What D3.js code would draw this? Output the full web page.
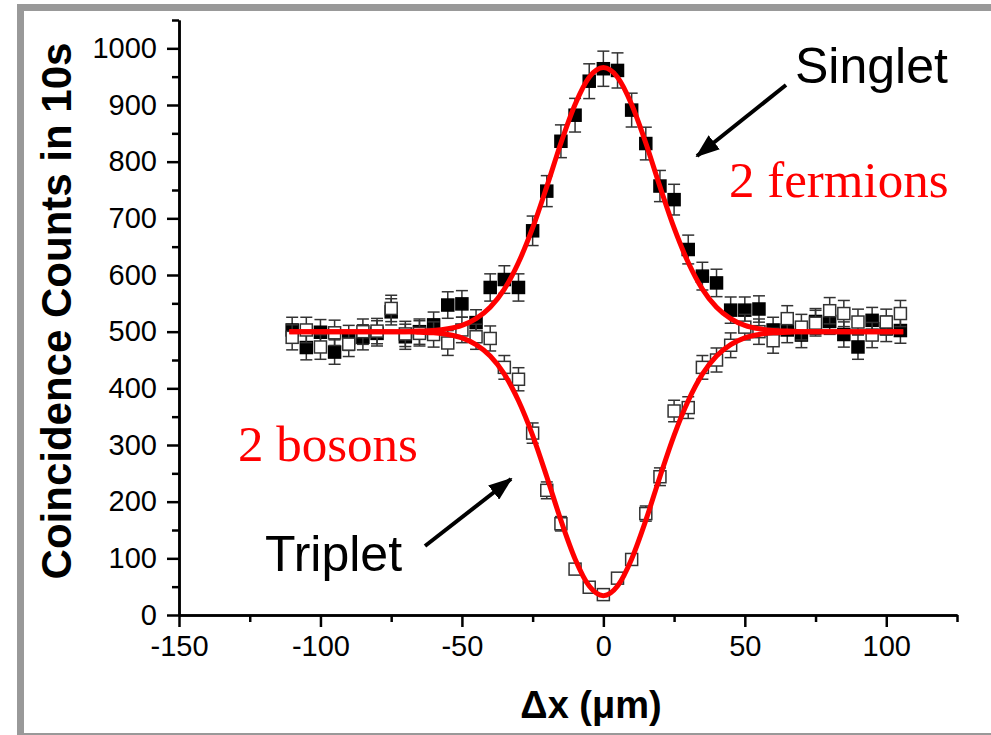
<!DOCTYPE html>
<html>
<head>
<meta charset="utf-8">
<script src="https://cdn.jsdelivr.net/npm/d3@7"></script>
<style>
  body { margin: 0; background: #fff; }
  text { font-family: "Liberation Sans", Arial, sans-serif; }
</style>
</head>
<body>
<div id="chart"></div>
<script>
// displacement of the beam splitter (um)
const xValues = [-110, -105, -100, -95, -90, -85, -80, -75, -70, -65, -60, -55, -50, -45, -40, -35, -30, -25, -20, -15, -10, -5,
  0, 5, 10, 15, 20, 25, 30, 35, 40, 45, 50, 55, 60, 65, 70, 75, 80, 85, 90, 95, 100, 105];
// filled squares (singlet)
const singletCounts = [503, 472, 499, 464, 489, 490, 497, 535, 491, 500, 512, 547, 549, 516, 578, 592, 578, 678, 748, 836, 882, 942,
  964, 961, 891, 832, 757, 733, 645, 598, 586, 538, 538, 540, 503, 503, 494, 518, 518, 495, 473, 520, 505, 502];
// open squares (triplet)
const tripletCounts = [490, 503, 473, 498, 478, 500, 501, 541, 496, 497, 495, 480, 503, 491, 488, 437, 416, 321, 220, 161, 81, 49,
  36, 65, 98, 179, 244, 360, 366, 437, 450, 476, 508, 500, 484, 523, 508, 515, 537, 532, 517, 494, 517, 532];

// fitted curves
const fitX = [-111, -80, -70, -65, -60, -55, -50, -45, -40, -35, -30, -25, -20, -15, -10, -5, 0,
  5, 10, 15, 20, 25, 30, 35, 40, 45, 50, 55, 60, 65, 70, 80, 106];
const singletFit = [500, 500, 500, 501, 502, 505, 511, 523, 543, 575, 622, 683, 756, 833, 901, 949, 966,
  949, 901, 833, 756, 683, 622, 575, 543, 523, 511, 505, 502, 501, 500, 500, 500];
const tripletFit = [500, 500, 500, 499, 498, 495, 489, 477, 457, 425, 378, 317, 244, 167, 99, 51, 34,
  51, 99, 167, 244, 317, 378, 425, 457, 477, 489, 495, 498, 499, 500, 500, 500];

const xTicks = [-150, -100, -50, 0, 50, 100];
const xMinorTicks = [-125, -75, -25, 25, 75, 125];
const yTicks = [0, 100, 200, 300, 400, 500, 600, 700, 800, 900, 1000];
const yMinorTicks = [50, 150, 250, 350, 450, 550, 650, 750, 850, 950, 1050];

const margin = {top: 20, right: 34, bottom: 120, left: 179},
    width = 991 - margin.left - margin.right,
    height = 735 - margin.top - margin.bottom;

const root = d3.select("#chart")
  .append("svg")
    .attr("width", 991)
    .attr("height", 735);

// grey frame around the slide figure
root.append("path")
  .attr("d", "M20.5,735 L20.5,7.5 L991,7.5")
  .attr("fill", "none")
  .attr("stroke", "#999")
  .attr("stroke-width", 7);
root.append("line")
  .attr("x1", 20).attr("x2", 991)
  .attr("y1", 734).attr("y2", 734)
  .attr("stroke", "#999")
  .attr("stroke-width", 2);

const svg = root.append("g")
  .attr("transform", "translate(" + margin.left + "," + margin.top + ")");

const x = d3.scaleLinear().domain([-150, 125]).range([0, width]);
const y = d3.scaleLinear().domain([0, 1050]).range([height, 0]);

// axes
svg.append("g")
  .attr("transform", "translate(0," + height + ")")
  .call(d3.axisBottom(x).tickValues(xTicks).tickSize(12).tickPadding(8).tickSizeOuter(0)
    .tickFormat(d => String(d)));
svg.append("g")
  .attr("transform", "translate(0," + height + ")")
  .call(d3.axisBottom(x).tickValues(xMinorTicks).tickSize(7).tickFormat("").tickSizeOuter(0));
svg.append("g")
  .call(d3.axisLeft(y).tickValues(yTicks).tickSize(12).tickPadding(10).tickSizeOuter(0)
    .tickFormat(d => String(d)));
svg.append("g")
  .call(d3.axisLeft(y).tickValues(yMinorTicks).tickSize(7).tickFormat("").tickSizeOuter(0));

svg.selectAll(".domain, .tick line")
  .attr("stroke", "black")
  .attr("stroke-width", 2.5);
svg.selectAll(".tick text")
  .style("font-size", "29px")
  .style("fill", "black");

// axis titles
svg.append("text")
  .attr("transform", "translate(" + (71 - margin.left) + "," + (311 - margin.top) + ") rotate(-90)")
  .attr("text-anchor", "middle")
  .style("font-size", "42px")
  .style("font-weight", "bold")
  .text("Coincidence Counts in 10s");

svg.append("text")
  .attr("x", 591 - margin.left)
  .attr("y", 718 - margin.top)
  .attr("text-anchor", "middle")
  .style("font-size", "38px")
  .style("font-weight", "bold")
  .text("\u0394x (\u03bcm)");

// points with Poisson error bars (sqrt of counts)
const box = 12, cap = 6;
function drawSeries(values, fill) {
  const pts = xValues.map((v, i) => ({x: v, y: values[i], e: Math.sqrt(values[i])}));
  const g = svg.append("g");
  const bars = g.selectAll("g.err").data(pts).join("g").attr("class", "err")
    .attr("stroke", "#333").attr("stroke-width", 1.5);
  bars.append("line")
    .attr("x1", d => x(d.x)).attr("x2", d => x(d.x))
    .attr("y1", d => y(d.y - d.e)).attr("y2", d => y(d.y + d.e));
  bars.append("line")
    .attr("x1", d => x(d.x) - cap).attr("x2", d => x(d.x) + cap)
    .attr("y1", d => y(d.y + d.e)).attr("y2", d => y(d.y + d.e));
  bars.append("line")
    .attr("x1", d => x(d.x) - cap).attr("x2", d => x(d.x) + cap)
    .attr("y1", d => y(d.y - d.e)).attr("y2", d => y(d.y - d.e));
  g.selectAll("rect").data(pts).join("rect")
    .attr("x", d => x(d.x) - box / 2)
    .attr("y", d => y(d.y) - box / 2)
    .attr("width", box)
    .attr("height", box)
    .attr("fill", fill)
    .attr("stroke", fill === "black" ? "black" : "#333")
    .attr("stroke-width", 1.5);
}
drawSeries(singletCounts, "black");
drawSeries(tripletCounts, "white");

// red fit lines
const fitLine = d3.line()
  .x(d => x(d[0]))
  .y(d => y(d[1]))
  .curve(d3.curveMonotoneX);
[singletFit, tripletFit].forEach(fit => {
  svg.append("path")
    .datum(fitX.map((v, i) => [v, fit[i]]))
    .attr("d", fitLine)
    .attr("fill", "none")
    .attr("stroke", "#ff0000")
    .attr("stroke-width", 5);
});

// annotations
root.append("defs").append("marker")
  .attr("id", "head")
  .attr("markerUnits", "userSpaceOnUse")
  .attr("viewBox", "0 0 24 18")
  .attr("refX", 22).attr("refY", 9)
  .attr("markerWidth", 24).attr("markerHeight", 18)
  .attr("orient", "auto")
  .append("path")
    .attr("d", "M0,0 L24,9 L0,18 Z")
    .attr("fill", "black");

root.append("line")
  .attr("x1", 786).attr("y1", 85).attr("x2", 697).attr("y2", 156)
  .attr("stroke", "black").attr("stroke-width", 4)
  .attr("marker-end", "url(#head)");
root.append("line")
  .attr("x1", 425).attr("y1", 546).attr("x2", 511).attr("y2", 479)
  .attr("stroke", "black").attr("stroke-width", 4)
  .attr("marker-end", "url(#head)");

root.append("text")
  .attr("x", 795).attr("y", 83)
  .style("font-size", "50px")
  .text("Singlet");
root.append("text")
  .attr("x", 265).attr("y", 571)
  .style("font-size", "50px")
  .text("Triplet");

root.append("text")
  .attr("x", 729).attr("y", 197)
  .style("font-family", "'Liberation Serif', 'Times New Roman', serif")
  .style("font-size", "51px")
  .style("fill", "#ff0000")
  .text("2 fermions");
root.append("text")
  .attr("x", 238).attr("y", 461)
  .style("font-family", "'Liberation Serif', 'Times New Roman', serif")
  .style("font-size", "51px")
  .style("fill", "#ff0000")
  .text("2 bosons");
</script>
</body>
</html>
